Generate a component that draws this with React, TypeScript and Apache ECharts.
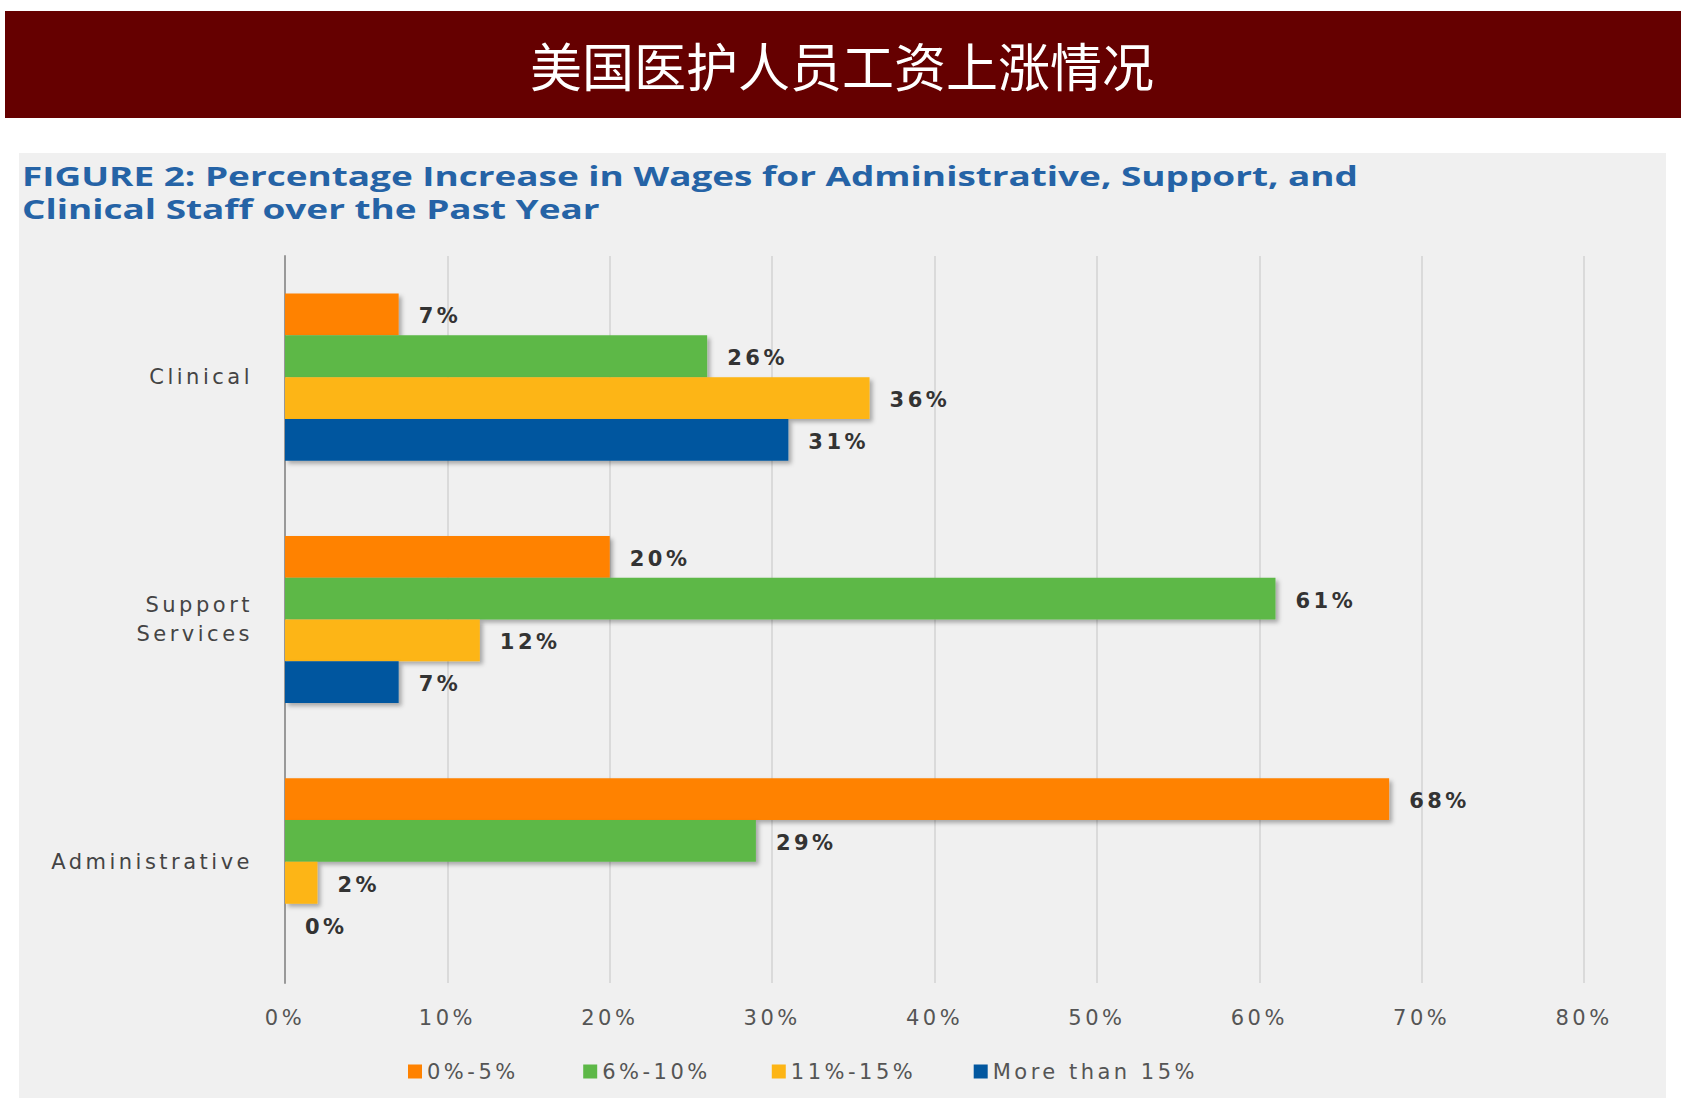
import React, { useEffect, useRef } from "react";
import * as echarts from "echarts";

const categories = ["Clinical", "Support\nServices", "Administrative"];
const seriesNames = ["0%-5%", "6%-10%", "11%-15%", "More than 15%"];
const seriesColors = ["#FF8200", "#5DB847", "#FDB515", "#02579F"];
const lowValues = [7, 20, 68];
const midValues = [26, 61, 29];
const highValues = [36, 12, 2];
const topValues = [31, 7, 0];
const xTicks = [0, 10, 20, 30, 40, 50, 60, 70, 80];

const bannerTitle = "美国医护人员工资上涨情况";
const figureTitle1 = "FIGURE 2: Percentage Increase in Wages for Administrative, Support, and";
const figureTitle2 = "Clinical Staff over the Past Year";

export default function App() {
  const ref = useRef<HTMLDivElement>(null);
  useEffect(() => {
    document.body.style.margin = "0";
    const chart = echarts.init(ref.current!, null, { renderer: "svg" });
    const allValues = [lowValues, midValues, highValues, topValues];
    const font = "DejaVu Sans";
    chart.setOption({
      animation: false,
      backgroundColor: "#ffffff",
      graphic: [
        { type: "rect", shape: { x: 5, y: 11, width: 1676, height: 107 }, style: { fill: "#650000" }, z: 0 },
        {
          type: "text", x: 842, y: 64,
          style: { text: bannerTitle, fill: "#ffffff", font: "normal 52px 'Noto Sans CJK SC'", textAlign: "center", textVerticalAlign: "middle" },
          z: 1,
        },
        { type: "rect", shape: { x: 19, y: 153, width: 1647, height: 945 }, style: { fill: "#f0f0f0" }, z: -10 },
        {
          type: "text", x: 22, y: 176, scaleX: 1.42,
          style: { text: figureTitle1, fill: "#2563a6", font: "bold 26px 'Open Sans'", textVerticalAlign: "middle" },
        },
        {
          type: "text", x: 22, y: 209, scaleX: 1.42,
          style: { text: figureTitle2, fill: "#2563a6", font: "bold 26px 'Open Sans'", textVerticalAlign: "middle" },
        },
      ],
      grid: { left: 285, right: 109, top: 256, bottom: 123, containLabel: false },
      legend: {
        data: seriesNames,
        left: 403, top: 1056,
        itemWidth: 14, itemHeight: 14, itemGap: 82,
        icon: "rect",
        textStyle: { fontFamily: font, fontSize: 21, color: "#555" },
      },
      xAxis: {
        type: "value", min: 0, max: 80, interval: 10,
        axisLine: { show: false }, axisTick: { show: false },
        splitLine: { show: true, lineStyle: { color: "#dadada", width: 2 } },
        axisLabel: { formatter: (v: number) => (xTicks.includes(v) ? v + "%" : ""), fontFamily: font, fontSize: 21, color: "#555", margin: 24 },
      },
      yAxis: {
        type: "category", data: categories, inverse: true,
        axisLine: { show: true, lineStyle: { color: "#999", width: 2 } },
        axisTick: { show: false },
        axisLabel: { fontFamily: font, fontSize: 21, color: "#444", margin: 32, align: "right", lineHeight: 29 },
      },
      series: seriesNames.map((name, i) => ({
        name, type: "bar", data: allValues[i],
        barGap: "0%", barCategoryGap: "31%",
        itemStyle: { color: seriesColors[i], shadowColor: "rgba(0,0,0,0.3)", shadowBlur: 4, shadowOffsetX: 3, shadowOffsetY: 3 },
        label: { show: true, position: "right", distance: 20, formatter: "{c}%", fontFamily: font, fontWeight: "bold", fontSize: 21, color: "#333", offset: [0, 2] },
      })),
    });
    return () => chart.dispose();
  }, []);
  return (
    <>
      <style>{`text[style*="DejaVu"] { letter-spacing: 3.5px; }`}</style>
      <div ref={ref} style={{ width: 1693, height: 1106 }} />
    </>
  );
}
